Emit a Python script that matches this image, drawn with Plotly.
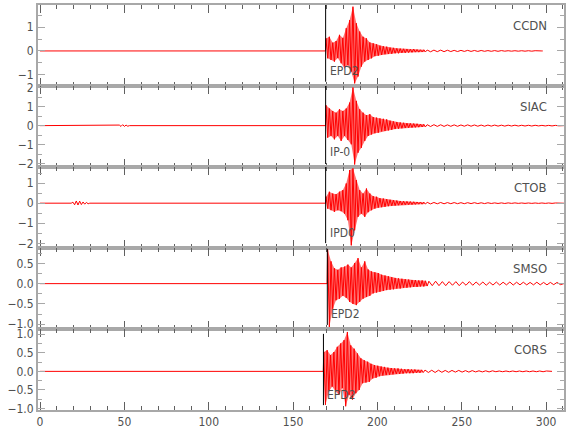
import numpy as np
import plotly.graph_objects as go
from plotly.subplots import make_subplots

# ---------------- data ----------------
STATIONS = ["CCDN", "SIAC", "CTOB", "SMSO", "CORS"]
RECORD_START = 0.0
RECORD_END = [298.0, 310.5, 310.5, 310.5, 303.5]
ONSET = [169.5, 169.5, 169.5, 170.5, 168.2]          # first sample of the main wave train
PICK_TIME = [169.3, 169.3, 169.3, 170.3, 168.0]      # phase picks
PICK_LABEL = ["EPD2", "IP-0", "IPD0", "EPD2", "EPD2"]
MAIN_DT = 1.0
TAIL_DT = 2.0

CCDN_MAIN = [0.53, -0.31, 0.6, -0.38, 0.35, -0.45, 0.42, -0.3, 0.68, -0.52,
             0.55, -0.73, 0.96, -0.6, 1.3, -0.87, 1.87, -1.37, 1.17, -1.08,
             0.82, -0.66, 0.6, -0.45, 0.53, -0.38, 0.36, -0.31, 0.32, -0.22,
             0.28, -0.2, 0.22, -0.17, 0.2, -0.14, 0.18, -0.13, 0.14, -0.12,
             0.13, -0.1, 0.11, -0.1, 0.1, -0.08, 0.09, -0.08, 0.08, -0.07,
             0.07, -0.06, 0.08, -0.05, 0.06, -0.05, 0.05, -0.04, 0.05, -0.04]
CCDN_TAIL = [0.04, -0.035, 0.035, -0.03, 0.035, -0.03, 0.03, -0.025, 0.025, -0.025,
             0.025, -0.02, 0.025, -0.02, 0.02, -0.02, 0.02, -0.015, 0.015, -0.015,
             0.015, -0.015, 0.015, -0.01, 0.01, -0.01, 0.01, -0.01, 0.01, -0.01,
             0.01, -0.01, 0.01, -0.01, 0.0]

SIAC_MAIN = [1.07, -0.63, 0.9, -0.54, 0.77, -0.72, 0.68, -0.54, 0.86, -0.8,
             0.77, -0.54, 0.9, -0.75, 1.21, -0.98, 2.0, -2.04, 1.3, -1.42,
             0.86, -1.16, 0.68, -0.8, 0.55, -0.54, 0.6, -0.46, 0.45, -0.4,
             0.42, -0.37, 0.38, -0.3, 0.36, -0.28, 0.33, -0.25, 0.26, -0.22,
             0.22, -0.18, 0.19, -0.16, 0.17, -0.14, 0.15, -0.12, 0.13, -0.11,
             0.12, -0.1, 0.11, -0.09, 0.1, -0.08, 0.08, -0.07, 0.07, -0.06]
SIAC_TAIL = [0.05, -0.045, 0.05, -0.04, 0.045, -0.04, 0.04, -0.035, 0.04, -0.035,
             0.035, -0.03, 0.04, -0.03, 0.035, -0.03, 0.03, -0.03, 0.03, -0.025,
             0.03, -0.025, 0.025, -0.025, 0.025, -0.02, 0.025, -0.02, 0.02, -0.02,
             0.02, -0.02, 0.02, -0.015, 0.015, -0.015, 0.015, -0.015, 0.015, -0.01, 0.0]

CTOB_MAIN = [0.32, -0.27, 0.57, -0.35, 0.48, -0.43, 0.45, -0.35, 0.57, -0.4,
             0.65, -0.52, 0.98, -0.85, 1.65, -2.1, 1.73, -1.35, 1.15, -0.68,
             0.65, -0.52, 0.48, -0.68, 0.73, -0.45, 0.48, -0.35, 0.35, -0.27,
             0.32, -0.22, 0.25, -0.2, 0.23, -0.18, 0.2, -0.15, 0.17, -0.13,
             0.15, -0.12, 0.13, -0.1, 0.11, -0.09, 0.1, -0.08, 0.09, -0.07,
             0.08, -0.07, 0.07, -0.06, 0.06, -0.05, 0.06, -0.05, 0.05, -0.04]
CTOB_TAIL = [0.04, -0.035, 0.035, -0.03, 0.035, -0.03, 0.03, -0.025, 0.03, -0.025,
             0.025, -0.025, 0.025, -0.02, 0.025, -0.02, 0.02, -0.02, 0.02, -0.015,
             0.015, -0.015, 0.015, -0.015, 0.015, -0.01, 0.015, -0.01, 0.01, -0.01,
             0.01, -0.01, 0.01, -0.01, 0.01, -0.01, 0.01, -0.01, 0.01, -0.01, 0.0]

SMSO_MAIN = [0.84, -1.07, 0.55, -0.62, 0.38, -0.41, 0.34, -0.37, 0.4, -0.3,
             0.42, -0.35, 0.47, -0.45, 0.4, -0.5, 0.51, -0.53, 0.63, -0.45,
             0.4, -0.37, 0.55, -0.33, 0.35, -0.3, 0.3, -0.24, 0.28, -0.22,
             0.26, -0.2, 0.22, -0.18, 0.2, -0.16, 0.18, -0.15, 0.16, -0.14,
             0.14, -0.12, 0.13, -0.12, 0.12, -0.1, 0.11, -0.1, 0.1, -0.09,
             0.09, -0.08, 0.09, -0.08, 0.08, -0.07, 0.08, -0.07, 0.07, -0.06]
SMSO_TAIL = [0.06, -0.05, 0.06, -0.05, 0.05, -0.05, 0.05, -0.04, 0.05, -0.05,
             0.04, -0.04, 0.05, -0.04, 0.04, -0.035, 0.04, -0.04, 0.035, -0.035,
             0.04, -0.035, 0.035, -0.03, 0.04, -0.035, 0.035, -0.03, 0.035, -0.03,
             0.03, -0.03, 0.035, -0.03, 0.03, -0.03, 0.03, -0.025, 0.03, -0.025]

CORS_MAIN = [0.52, -0.9, 0.57, -0.54, 0.44, -0.41, 0.52, -0.54, 0.66, -0.63,
             0.75, -0.45, 0.84, -0.94, 1.06, -0.63, 0.7, -0.76, 0.61, -0.59,
             0.48, -0.5, 0.35, -0.32, 0.3, -0.3, 0.26, -0.28, 0.2, -0.19,
             0.17, -0.17, 0.15, -0.13, 0.13, -0.11, 0.12, -0.1, 0.1, -0.09,
             0.09, -0.08, 0.08, -0.07, 0.08, -0.07, 0.07, -0.06, 0.06, -0.05,
             0.06, -0.05, 0.05, -0.05, 0.05, -0.04, 0.04, -0.04, 0.04, -0.03]
CORS_TAIL = [0.035, -0.03, 0.03, -0.03, 0.03, -0.025, 0.025, -0.025, 0.025, -0.02,
             0.025, -0.02, 0.02, -0.02, 0.02, -0.015, 0.015, -0.015, 0.015, -0.015,
             0.015, -0.01, 0.01, -0.01, 0.01, -0.01, 0.01, -0.01, 0.01, -0.01,
             0.01, -0.01, 0.01, -0.01, 0.01, -0.01, 0.01, 0.0]

# small pre-event noise bursts (start time, amplitudes at MAIN_DT)
CTOB_PRE_T0 = 19.5
CTOB_PRE = [0.05, -0.08, 0.11, -0.09, 0.1, -0.07, 0.06, -0.05, 0.04, -0.03]
SIAC_PRE_T0 = 47.0
SIAC_PRE = [0.03, -0.04, 0.05, -0.04, 0.03, -0.03]

MAIN = [CCDN_MAIN, SIAC_MAIN, CTOB_MAIN, SMSO_MAIN, CORS_MAIN]
TAIL = [CCDN_TAIL, SIAC_TAIL, CTOB_TAIL, SMSO_TAIL, CORS_TAIL]
PRE = [None, (SIAC_PRE_T0, SIAC_PRE), (CTOB_PRE_T0, CTOB_PRE), None, None]

Y_RANGE = [[-1.48, 1.94], [-2.17, 2.08], [-2.23, 1.8], [-1.12, 0.88], [-1.04, 1.14]]
Y_DTICK = [1, 1, 1, 0.5, 0.5]
Y_MINOR = [0.5, 0.5, 0.5, 0.25, 0.25]
Y_FMT = ["d", "d", "d", ".1f", ".1f"]
PICK_Y0 = [0.053, 0.037, 0.06, 0.05, 0.06]    # bottom end of the pick marker (domain fraction)
PICK_Y1 = [1.0, 1.0, 1.0, 0.99, 0.94]

X_RANGE = [-1.2, 310.6]

# --------------- figure ---------------
FONT = "Liberation Sans Narrow, DejaVu Sans Condensed, Arial Narrow, sans-serif"
TXT = "#505050"
AX = "#a8a8a8"
TK = "#606060"

fig = make_subplots(rows=5, cols=1, shared_xaxes=True, vertical_spacing=0)

for i, name in enumerate(STATIONS):
    main_t = ONSET[i] + MAIN_DT * np.arange(len(MAIN[i]))
    main_a = np.array(MAIN[i])
    tail_t0 = ONSET[i] + MAIN_DT * len(MAIN[i])
    tail_t = tail_t0 + TAIL_DT * np.arange(len(TAIL[i]))

    # envelope band of the main wave train (positive peaks over negative peaks)
    pos = main_a > 0
    neg = main_a < 0
    bx = list(main_t[pos]) + list(main_t[neg][::-1])
    by = list(main_a[pos]) + list(main_a[neg][::-1])
    fig.add_trace(go.Scatter(x=bx, y=by, mode="lines", fill="toself",
                             fillcolor="rgba(255,0,0,0.55)",
                             line=dict(width=0), hoverinfo="skip",
                             showlegend=False),
                  row=i + 1, col=1)

    xs = [RECORD_START]
    ys = [0.0]
    if PRE[i] is not None:
        t0, amps = PRE[i]
        xs.append(t0 - MAIN_DT)
        ys.append(0.0)
        xs += list(t0 + MAIN_DT * np.arange(len(amps)))
        ys += list(amps)
        xs.append(t0 + MAIN_DT * len(amps))
        ys.append(0.0)
    xs.append(ONSET[i] - 0.3)
    ys.append(0.0)
    xs += list(main_t)
    ys += list(MAIN[i])
    xs += list(tail_t)
    ys += list(TAIL[i])
    xs.append(RECORD_END[i])
    ys.append(0.0)

    fig.add_trace(go.Scatter(x=xs, y=ys, mode="lines",
                             line=dict(color="#ff0000", width=1),
                             hoverinfo="skip", showlegend=False),
                  row=i + 1, col=1)

    yref = "y" if i == 0 else f"y{i + 1}"
    xref = "x" if i == 0 else f"x{i + 1}"
    # pick marker
    fig.add_shape(type="line", xref=xref, yref=f"{yref} domain",
                  x0=PICK_TIME[i], x1=PICK_TIME[i],
                  y0=PICK_Y0[i], y1=PICK_Y1[i],
                  line=dict(color="#000000", width=1))
    fig.add_annotation(xref=xref, yref=f"{yref} domain",
                       x=PICK_TIME[i] + 1.2, y=0.18,
                       text=PICK_LABEL[i], showarrow=False,
                       xanchor="left", yanchor="middle",
                       font=dict(family=FONT, size=12, color=TXT))
    # station name
    fig.add_annotation(xref=f"{xref} domain", yref=f"{yref} domain",
                       x=0.9715, y=0.75, text=name, showarrow=False,
                       xanchor="right", yanchor="middle",
                       font=dict(family=FONT, size=13, color=TXT))

    fig.update_yaxes(range=Y_RANGE[i], dtick=Y_DTICK[i], tick0=0,
                     tickformat=Y_FMT[i], automargin=False,
                     showline=True, linewidth=2, linecolor=AX, mirror="allticks",
                     ticks="inside", ticklen=7, tickwidth=1, tickcolor=AX,
                     minor=dict(dtick=Y_MINOR[i], tick0=0, ticks="inside",
                                ticklen=4, tickcolor=AX, showgrid=False),
                     showgrid=False, zeroline=False,
                     tickfont=dict(family=FONT, size=12, color=TXT),
                     row=i + 1, col=1)

fig.update_xaxes(range=X_RANGE, dtick=50, tick0=0, automargin=False,
                 showline=True, linewidth=2, linecolor=AX, mirror="allticks",
                 ticks="inside", ticklen=8, tickwidth=1, tickcolor=TK,
                 minor=dict(dtick=10, tick0=0, ticks="inside", ticklen=4,
                            tickcolor=TK, showgrid=False),
                 showgrid=False, zeroline=False,
                 tickfont=dict(family=FONT, size=12, color=TXT))

fig.update_layout(width=580, height=440,
                  margin=dict(l=38, r=16, t=5, b=30),
                  paper_bgcolor="white", plot_bgcolor="white",
                  showlegend=False)

fig.write_html("out.html",
               config={"displayModeBar": False},
               post_script="document.body.style.margin='0px';"
                           "document.body.style.overflow='hidden';")
